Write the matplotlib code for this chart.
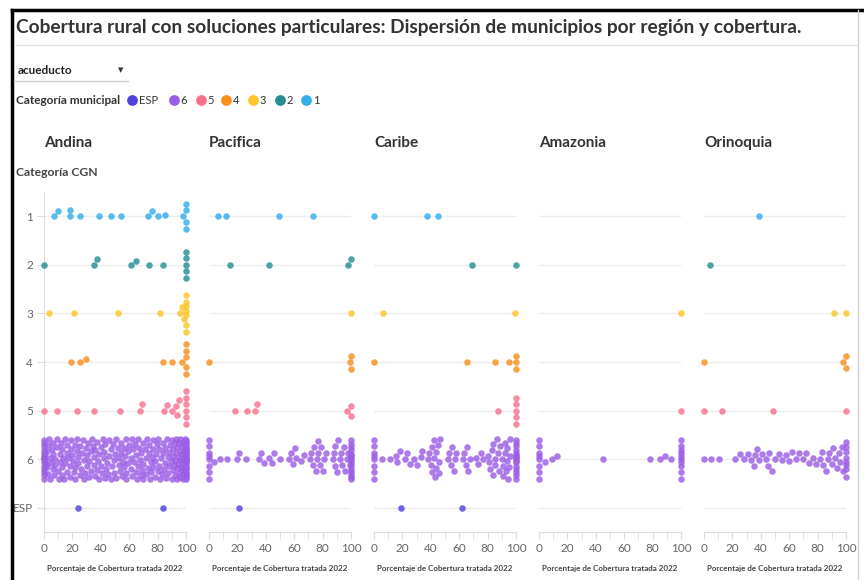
import numpy as np
import matplotlib.pyplot as plt

plt.rcParams['font.family'] = ['Lato', 'DejaVu Sans']

W, H = 864, 580

categories = ["1", "2", "3", "4", "5", "6", "ESP"]
legend_order = ["ESP", "6", "5", "4", "3", "2", "1"]
cat_colors = {"ESP": "#5041e0", "6": "#9b5de5", "5": "#f7708c", "4": "#f98e1d",
              "3": "#fdc52a", "2": "#248f91", "1": "#33aeea"}
regions = ["Andina", "Pacifica", "Caribe", "Amazonia", "Orinoquia"]

# porcentaje de cobertura por municipio, agrupado por categoría CGN
andina = {
    "1": [7, 10, 18, 18, 25, 39, 47, 54, 73, 76, 80.5, 85, 98, 100, 100, 100, 100],
    "2": [0, 35, 37.5, 61, 65, 74, 84, 100, 100, 100, 100, 100],
    "3": [3.5, 21, 52, 81.5, 96, 97, 98.5, 100, 100, 100, 100, 100, 100, 100],
    "4": [19, 25.5, 29.5, 84, 90, 97, 100, 100, 100, 100, 100],
    "5": [0, 9, 23.5, 35, 53.5, 67.5, 69, 84.5, 86.5, 90, 93, 93.5, 95,
          100, 100, 100, 100, 100, 100],
    "6": [0, 0, 0, 0, 0, 0, 0, 0, 0, 0, 0, 0, 0, 0,
          1, 1, 1.5, 2, 2, 2.5, 3, 3.5, 4, 4, 5, 5.5, 6, 6, 6.5, 7, 8, 8, 9,
          9.5, 10, 10.5, 11, 11, 12, 12.5, 13, 13, 13.5, 14, 14.5, 15, 16, 16,
          16.5, 17, 18, 18.5, 19, 19, 20, 20.5, 21, 21.5, 22, 22, 23, 23.5, 24,
          24, 25, 25.5, 26, 27, 27.5, 28, 28, 29, 29.5, 30, 30, 31, 31.5, 32,
          33, 33, 34, 34.5, 35, 35.5, 36, 36, 37, 37.5, 38, 38.5, 39, 40, 40,
          41, 41.5, 42, 42.5, 43, 43, 44, 44.5, 45, 45.5, 46, 47, 47, 48, 48.5,
          49, 49.5, 50, 51, 51, 52, 52.5, 53, 53.5, 54, 54, 55, 55.5, 56, 56.5,
          57, 57.5, 58, 58, 59, 59.5, 60, 61, 61.5, 62, 62, 63, 63.5, 64, 64.5,
          65, 65.5, 66, 66, 67, 67.5, 68, 68.5, 69, 69.5, 70, 70, 71, 71.5, 72,
          72.5, 73, 74, 74, 74.5, 75, 75.5, 76, 76.5, 77, 77, 78, 78.5, 79,
          79.5, 80, 80.5, 81, 81, 82, 82.5, 83, 83.5, 84, 84.5, 85, 85, 86,
          86.5, 87, 87.5, 88, 88, 89, 89.5, 90, 90, 90.5, 91, 91, 91.5, 92, 92,
          92.5, 93, 93, 93.5, 94, 94, 94.5, 95, 95, 95, 95.5, 96, 96, 96, 96.5,
          97, 97, 97, 97.5, 98, 98, 98, 98, 98.5, 99, 99, 99, 99, 99.5, 99.5,
          100, 100, 100, 100, 100, 100, 100, 100, 100, 100, 100, 100, 100, 100,
          100, 100, 100, 100, 100, 100, 100, 100, 100, 100],
    "ESP": [24, 84],
}
pacifica = {
    "1": [6, 12, 49.5, 73],
    "2": [14.5, 42.5, 98, 100],
    "3": [100],
    "4": [0, 99, 100, 100],
    "5": [18.5, 26.5, 32.5, 34, 97, 100, 100],
    "6": [0, 0, 0, 0, 0, 0, 0, 0, 3.5, 7.5, 12.5, 19.5, 21, 26, 35, 36.5, 39,
          42, 44.5, 45.5, 50, 56.5, 57.5, 59.5, 60.5, 61, 65, 67, 71, 72, 73,
          74, 75, 76, 76.5, 77, 78, 79, 80, 81, 82.5, 87, 88, 88.5, 89, 90, 91,
          92, 93, 94, 95, 96, 97, 98, 99,
          100, 100, 100, 100, 100, 100, 100, 100, 100, 100, 100, 100, 100, 100,
          100, 100],
    "ESP": [21],
}
caribe = {
    "1": [0, 37.5, 45],
    "2": [69, 100],
    "3": [6, 99.5],
    "4": [0, 65.5, 85, 95, 100, 100, 100],
    "5": [87, 100, 100, 100, 100, 100],
    "6": [0, 0, 0, 0, 0, 0, 0, 0, 5.5, 11.5, 15.5, 16.5, 18.5, 22, 23.5, 25.5,
          28.5, 30.5, 33, 33.5, 38, 39, 40, 40.5, 41, 42, 42.5, 43, 43.5, 44,
          45, 45.5, 46, 46.5, 52, 53, 54, 55, 56, 57, 58, 62.5, 63.5, 64.5,
          65.5, 66.5, 67.5, 72, 73.5, 75, 76.5, 80.5, 81, 82, 83, 83.5, 84, 85,
          85.5, 86.5, 87, 88, 88.5, 90, 90.5, 91, 92, 92.5, 93, 93.5, 94, 94.5,
          95, 95.5, 96,
          100, 100, 100, 100, 100, 100, 100, 100, 100, 100, 100, 100, 100, 100,
          100, 100],
    "ESP": [19, 62],
}
amazonia = {
    "1": [], "2": [], "3": [100], "4": [], "5": [100],
    "6": [0, 0, 0, 0, 0, 0, 0, 0, 4, 9, 13, 45, 78, 85, 89, 93,
          100, 100, 100, 100, 100, 100, 100, 100, 100, 100],
    "ESP": [],
}
orinoquia = {
    "1": [39], "2": [4], "3": [91.5, 100], "4": [0, 98, 100, 100],
    "5": [0, 12.5, 48.5, 100],
    "6": [0, 5, 10.5, 22, 25, 28, 31, 33, 35, 36, 37, 39, 41, 44, 45, 46, 48,
          50, 53, 55, 58, 60, 62, 65, 67, 70, 72, 74, 77, 79, 82, 83, 84, 86,
          87, 88, 90, 91, 92, 94, 95, 96, 97, 98,
          100, 100, 100, 100, 100, 100, 100, 100],
    "ESP": [],
}
region_data = [andina, pacifica, caribe, amazonia, orinoquia]

PANEL_X0, PANEL_STEP, PANEL_W = 44, 165, 142
TOP, BOTTOM = 192, 532
DIAM = 6.5


def fx(px):
    return px / W


def fy(py):
    return 1 - py / H


def swarm(values, diam, max_off):
    # greedy beeswarm: nearest free vertical offset in pixels
    xs = np.asarray(values, float) * PANEL_W / 100
    cand = [0.0]
    k = 0.5
    while k <= max_off:
        cand += [-k, k]
        k += 0.5
    cand = np.array(cand)
    px, py = [], []
    for x in xs:
        off = 0.0
        if px:
            P = np.array(px)
            Q = np.array(py)
            near = np.abs(P - x) < diam
            if near.any():
                dx = (P[near] - x)[None, :]
                dy = Q[near][None, :] - cand[:, None]
                md = np.sqrt(dx ** 2 + dy ** 2).min(axis=1)
                ok = np.nonzero(md >= diam)[0]
                off = cand[ok[0]] if len(ok) else cand[np.argmax(md)]
        px.append(x)
        py.append(off)
    return np.array(py)


fig = plt.figure(figsize=(W / 100, H / 100), dpi=100)
px_to_y = 7 / (BOTTOM - TOP)

for k, (name, data) in enumerate(zip(regions, region_data)):
    left = PANEL_X0 + PANEL_STEP * k
    ax = fig.add_axes([fx(left), fy(BOTTOM), PANEL_W / W, (BOTTOM - TOP) / H])
    ax.set_facecolor('none')
    ax.set_xlim(0, 100)
    ax.set_ylim(6.5, -0.5)
    for i, c in enumerate(categories):
        vals = sorted(data[c])
        if not vals:
            continue
        offs = swarm(vals, DIAM, 20)
        ax.scatter(vals, i + offs * px_to_y, s=(DIAM * 0.72) ** 2,
                   color=cat_colors[c], alpha=0.82, linewidths=0,
                   clip_on=False, zorder=3)

    for side in ['top', 'right']:
        ax.spines[side].set_visible(False)
    ax.spines['bottom'].set_color('#dddddd')
    ax.spines['left'].set_color('#dddddd')
    ax.spines['left'].set_visible(k == 0)

    ax.set_xticks(range(0, 101, 20))
    ax.set_xticks(range(10, 100, 20), minor=True)
    ax.tick_params(axis='x', which='both', length=5, color='#dddddd',
                   labelcolor='#666666', labelsize=8.5, pad=3)
    ax.set_yticks(range(len(categories)))
    ax.yaxis.grid(True, color='#ececec', lw=1, zorder=0)
    ax.set_axisbelow(True)
    if k == 0:
        ax.set_yticklabels(categories)
        ax.tick_params(axis='y', length=5, color='#dddddd',
                       labelcolor='#666666', labelsize=8.5, pad=3)
    else:
        ax.tick_params(axis='y', left=False, labelleft=False)

    fig.text(fx(left), fy(143), name, fontsize=11, fontweight='bold',
             color='#333333', va='center')
    fig.text(fx(left + PANEL_W / 2), fy(568), 'Porcentaje de Cobertura tratada 2022',
             fontsize=5.8, fontweight='bold', color='#444444',
             ha='center', va='center')

fig.text(fx(16), fy(173), 'Categoría CGN', fontsize=8.7, fontweight='bold',
         color='#444444', va='center')

# header, selector and colour legend
ov = fig.add_axes([0, 0, 1, 1])
ov.set_xlim(0, W)
ov.set_ylim(H, 0)
ov.axis('off')
ov.plot([12, 12], [10, H], color='black', lw=2.5)
ov.plot([12, W], [10, 10], color='black', lw=2.5)
ov.plot([858, 858], [10, H], color='#d0d0d0', lw=1)
ov.plot([16, 858], [45, 45], color='#e3e3e3', lw=1)

fig.text(fx(16), fy(27), 'Cobertura rural con soluciones particulares: '
         'Dispersión de municipios por región y cobertura.',
         fontsize=13.8, fontweight='bold', color='#333333', va='center')

fig.text(fx(18), fy(70), 'acueducto', fontsize=8.5, fontweight='bold',
         color='#222222', va='center')
fig.text(fx(121), fy(70), '▼', fontsize=5, color='#333333',
         va='center', ha='center', family='DejaVu Sans')
ov.plot([14, 128], [81, 81], color='#cccccc', lw=1)

fig.text(fx(16), fy(100), 'Categoría municipal', fontsize=8.5,
         fontweight='bold', color='#333333', va='center')
legend_x = [132, 173.5, 200.5, 226, 252.5, 280, 306]
for c, lx in zip(legend_order, legend_x):
    ov.scatter([lx], [100], s=60, color=cat_colors[c], linewidths=0)
    fig.text(fx(lx + 7), fy(100), c, fontsize=8, color='#333333', va='center')

fig.savefig('out.png', dpi=100)
